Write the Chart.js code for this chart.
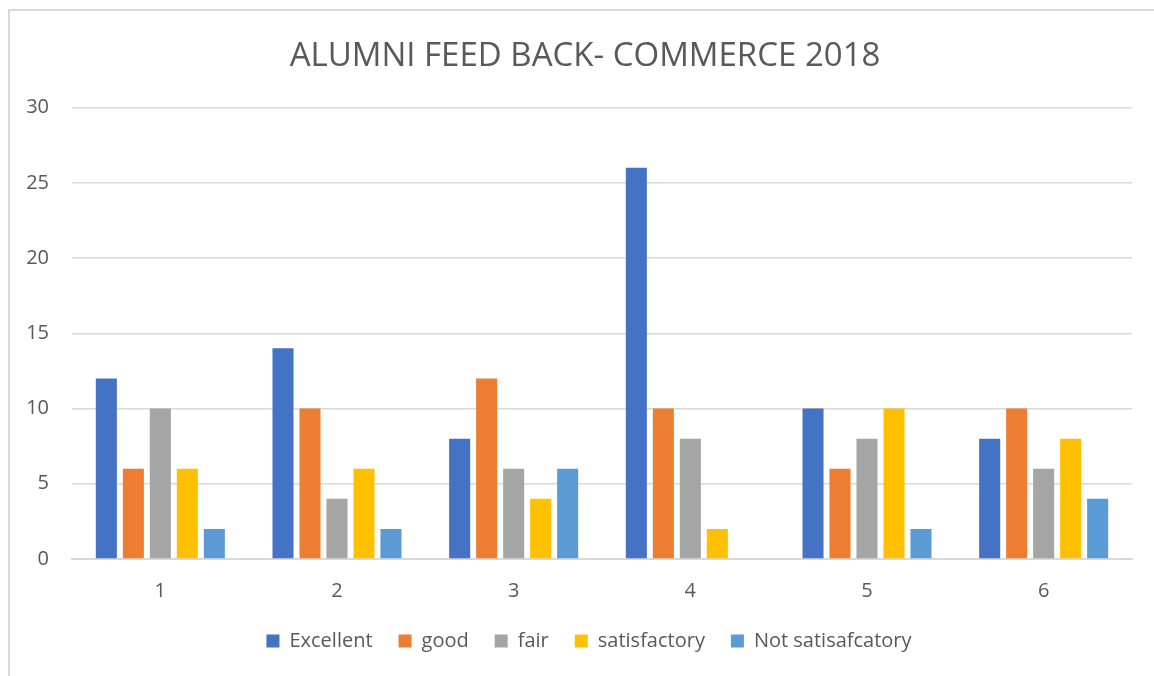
<!DOCTYPE html>
<html>
<head>
<meta charset="utf-8">
<script src="https://cdn.jsdelivr.net/npm/chart.js@4/dist/chart.umd.min.js"></script>
<style>
  html, body { margin: 0; padding: 0; background: #fff; }
  #wrap { position: relative; width: 1154px; height: 676px; }
  #frame { position: absolute; left: 8px; top: 9px; right: 0; bottom: -2px; border-top: 2px solid #d9d9d9; border-left: 2px solid #d9d9d9; }
  canvas { position: absolute; left: 0; top: 0; }
</style>
</head>
<body>
<div id="wrap">
  <div id="frame"></div>
  <canvas id="feedbackChart" width="1154" height="676"></canvas>
</div>
<script>
// Alumni feedback counts per question
const categories = ['1', '2', '3', '4', '5', '6'];
const excellent = [12, 14, 8, 26, 10, 8];
const good = [6, 10, 12, 10, 6, 10];
const fair = [10, 4, 6, 8, 8, 6];
const satisfactory = [6, 6, 4, 2, 10, 8];
const notSatisfactory = [2, 2, 6, 0, 2, 4];
const yTicks = [0, 5, 10, 15, 20, 25, 30];

const fontFamily = "'Open Sans', 'DejaVu Sans', sans-serif";
const textColor = '#595959';

const series = [
    { label: 'Excellent', data: excellent, color: '#4472c4' },
    { label: 'good', data: good, color: '#ed7d31' },
    { label: 'fair', data: fair, color: '#a5a5a5' },
    { label: 'satisfactory', data: satisfactory, color: '#ffc000' },
    { label: 'Not satisafcatory', data: notSatisfactory, color: '#5b9bd5' }
];

// keep wide gaps between legend items without growing the legend box,
// and center title/legend on the framed area rather than the canvas
const boxTweaks = {
    id: 'boxTweaks',
    afterInit(chart) {
        const legend = chart.legend;
        const fit = legend.fit;
        legend.fit = function () {
            fit.call(this);
            this.height = 71;
        };
    },
    afterLayout(chart) {
        chart.titleBlock.left += 18;
        chart.legend.left += 26;
    }
};

new Chart(document.getElementById('feedbackChart'), {
    type: 'bar',
    data: {
        labels: categories,
        datasets: series.map(s => ({
            label: s.label,
            data: s.data,
            backgroundColor: s.color,
            borderWidth: 0,
            categoryPercentage: 0.764,
            barPercentage: 0.78
        }))
    },
    plugins: [boxTweaks],
    options: {
        responsive: false,
        animation: false,
        layout: { padding: { left: 20, right: 22, top: 37, bottom: 0 } },
        plugins: {
            title: {
                display: true,
                text: 'ALUMNI FEED BACK- COMMERCE 2018',
                color: textColor,
                font: { family: fontFamily, size: 33, weight: 'normal' },
                padding: { top: 0, bottom: 31 }
            },
            legend: {
                position: 'bottom',
                labels: {
                    color: textColor,
                    font: { family: fontFamily, size: 20 },
                    boxWidth: 13,
                    boxHeight: 13,
                    padding: 26
                }
            },
            tooltip: { enabled: false }
        },
        scales: {
            x: {
                grid: { display: false, drawTicks: false },
                border: { color: '#d9d9d9', width: 2 },
                afterFit: axis => { axis.height = 46; },
                ticks: { color: textColor, font: { family: fontFamily, size: 20 }, padding: 20 }
            },
            y: {
                min: 0,
                max: 30,
                afterBuildTicks: axis => { axis.ticks = yTicks.map(v => ({ value: v })); },
                afterFit: axis => { axis.width = 52; },
                grid: { color: '#d9d9d9', lineWidth: 1.5, drawTicks: false },
                border: { display: false },
                ticks: { color: textColor, font: { family: fontFamily, size: 20 }, padding: 23 }
            }
        }
    }
});
</script>
</body>
</html>
